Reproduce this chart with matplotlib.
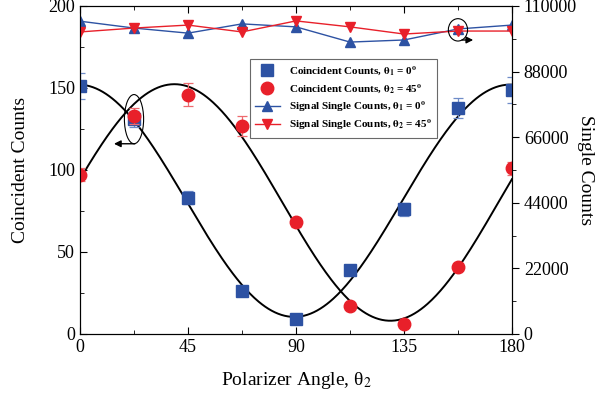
"""
Coincident and single counts vs polarizer angle
"""

import numpy as np
import matplotlib.pyplot as plt
from matplotlib.patches import Ellipse
from matplotlib.lines import Line2D

plt.rcParams['font.family'] = ['Liberation Serif', 'DejaVu Serif']
plt.rcParams['mathtext.fontset'] = 'stix'

# Data
angles = [0, 22.5, 45, 67.5, 90, 112.5, 135, 157.5, 180]
coinc_t1_0 = [151, 131, 83, 26, 9, 39, 76, 138, 149]
coinc_t1_0_err = [8, 5, 4, 2, 2, 2, 4, 6, 8]
coinc_t2_45 = [97, 133, 146, 127, 68, 17, 6, 41, 101]
coinc_t2_45_err = [4, 5, 7, 6, 3, 2, 2, 2, 4]
single_t1_0 = [104900, 102600, 100900, 104000, 103000, 97900, 98600, 102300, 103600]
single_t2_45 = [101300, 102600, 103600, 101300, 105000, 103000, 100600, 101600, 101600]

blue = '#2d52a3'
red = '#e8202a'


def cos2_fit(x, y):
    """Least-squares fit y = a + b cos(2x) + c sin(2x)"""
    r = np.radians(x)
    A = np.column_stack([np.ones_like(r), np.cos(2 * r), np.sin(2 * r)])
    coef, *_ = np.linalg.lstsq(A, np.asarray(y, float), rcond=None)
    xs = np.linspace(0, 180, 400)
    rs = np.radians(xs)
    return xs, coef[0] + coef[1] * np.cos(2 * rs) + coef[2] * np.sin(2 * rs)


fig = plt.figure(figsize=(6.03, 4.08), dpi=100)
ax = fig.add_axes([0.1327, 0.1814, 0.7163, 0.8039])
ax2 = ax.twinx()

# fit curves
for ys in (coinc_t1_0, coinc_t2_45):
    xs, fit = cos2_fit(angles, ys)
    ax.plot(xs, fit, color='black', lw=1.4, zorder=2)

ax.errorbar(angles, coinc_t1_0, yerr=coinc_t1_0_err, fmt='s', color=blue,
            ecolor='#6f8cc8', ms=8, capsize=3.5, elinewidth=0.9, capthick=0.9, zorder=3)
ax.errorbar(angles, coinc_t2_45, yerr=coinc_t2_45_err, fmt='o', color=red,
            ecolor='#ee6a6f', ms=9, capsize=3.5, elinewidth=0.9, capthick=0.9, zorder=4)

ax2.plot(angles, single_t1_0, '-^', color=blue, lw=1, ms=7)
ax2.plot(angles, single_t2_45, '-v', color=red, lw=1, ms=7)

ax.set_xlim(0, 180)
ax.set_ylim(0, 200)
ax2.set_ylim(0, 110000)
ax.set_xticks([0, 45, 90, 135, 180])
ax.set_xticks([22.5, 67.5, 112.5, 157.5], minor=True)
ax.set_yticks([0, 50, 100, 150, 200])
ax.set_yticks([25, 75, 125, 175], minor=True)
ax2.set_yticks([0, 22000, 44000, 66000, 88000, 110000])
ax2.set_yticks([11000, 33000, 55000, 77000, 99000], minor=True)

ax.tick_params(axis='both', which='both', labelsize=13, direction='out')
ax.tick_params(which='major', length=5)
ax.tick_params(which='minor', length=3)
ax.tick_params(top=True, which='both', direction='in')
ax2.tick_params(axis='y', which='both', labelsize=13, direction='out')
ax2.tick_params(which='major', length=5)
ax2.tick_params(which='minor', length=3)

ax.set_xlabel('Polarizer Angle, θ$_2$', fontsize=14, labelpad=10)
ax.set_ylabel('Coincident Counts', fontsize=14, labelpad=14)
ax2.set_ylabel('Single Counts', fontsize=14, rotation=270, labelpad=12)

# annotations: ellipses and arrows indicating axes
ax.add_patch(Ellipse((22.5, 131), 8, 30, fill=False, lw=0.8, color='black', zorder=5))
ax.annotate('', xy=(13, 116), xytext=(24, 116),
            arrowprops=dict(arrowstyle='-|>', color='black', lw=1, mutation_scale=10))
ax2.add_patch(Ellipse((157.5, 102000), 8, 7500, fill=False, lw=0.8, color='black', zorder=5))
ax2.annotate('', xy=(165, 98600), xytext=(158, 98600),
             arrowprops=dict(arrowstyle='-|>', color='black', lw=1, mutation_scale=10))

handles = [
    Line2D([], [], ls='none', marker='s', color=blue, ms=8),
    Line2D([], [], ls='none', marker='o', color=red, ms=9),
    Line2D([], [], marker='^', color=blue, lw=1, ms=7),
    Line2D([], [], marker='v', color=red, lw=1, ms=7),
]
labels = [
    r'Coincident Counts, $\mathbf{\theta_1}$ = 0$\mathbf{^o}$',
    r'Coincident Counts, $\mathbf{\theta_2}$ = 45$\mathbf{^o}$',
    r'Signal Single Counts, $\mathbf{\theta_1}$ = 0$\mathbf{^o}$',
    r'Signal Single Counts, $\mathbf{\theta_2}$ = 45$\mathbf{^o}$',
]
leg = ax.legend(handles, labels, loc='upper left', bbox_to_anchor=(0.38, 0.855),
                prop={'family': 'Liberation Serif', 'weight': 'bold', 'size': 8},
                frameon=True, fancybox=False, edgecolor='#444444',
                handlelength=2.2, borderpad=0.5, labelspacing=0.35)
leg.get_frame().set_linewidth(0.8)

fig.savefig('out.png', dpi=100)
